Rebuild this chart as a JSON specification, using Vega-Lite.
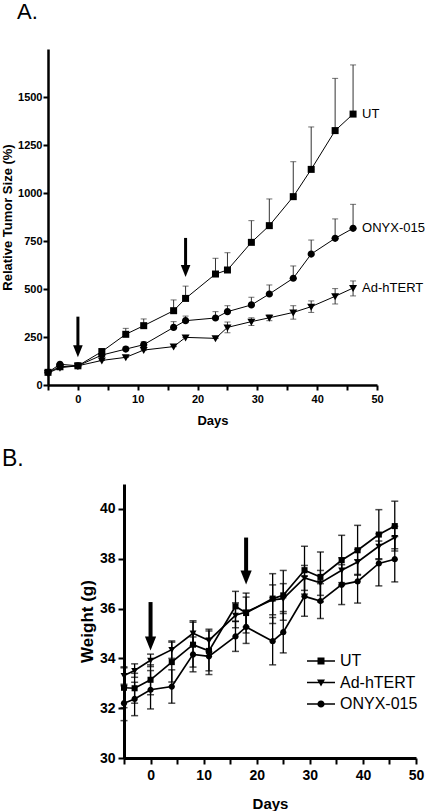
{
  "$schema": "https://vega.github.io/schema/vega-lite/v6.json",
  "padding": {"left": 1, "top": 1, "right": 0, "bottom": 0},
  "background": "white",
  "config": {"view": {"stroke": null}, "font": "Liberation Sans"},
  "spacing": 21,
  "columns": 1,
  "align": "none",
  "resolve": {"scale": {"shape": "independent"}, "legend": {"shape": "independent"}},
  "datasets": {
    "tumor": [
      {"series": "UT", "day": -5, "value": 66, "lo": 66, "hi": 66},
      {"series": "UT", "day": -3, "value": 95, "lo": 95, "hi": 95},
      {"series": "UT", "day": 0, "value": 100, "lo": 100, "hi": 100},
      {"series": "UT", "day": 4, "value": 174, "lo": 174, "hi": 190},
      {"series": "UT", "day": 8, "value": 264, "lo": 264, "hi": 295},
      {"series": "UT", "day": 11, "value": 309, "lo": 309, "hi": 344},
      {"series": "UT", "day": 16, "value": 387, "lo": 387, "hi": 443},
      {"series": "UT", "day": 18, "value": 451, "lo": 451, "hi": 515},
      {"series": "UT", "day": 23, "value": 578, "lo": 578, "hi": 660},
      {"series": "UT", "day": 25, "value": 599, "lo": 599, "hi": 689},
      {"series": "UT", "day": 29, "value": 743, "lo": 743, "hi": 856},
      {"series": "UT", "day": 32, "value": 830, "lo": 830, "hi": 969},
      {"series": "UT", "day": 36, "value": 981, "lo": 981, "hi": 1163},
      {"series": "UT", "day": 39, "value": 1123, "lo": 1123, "hi": 1344},
      {"series": "UT", "day": 43, "value": 1325, "lo": 1325, "hi": 1597},
      {"series": "UT", "day": 46, "value": 1411, "lo": 1411, "hi": 1667},
      {"series": "ONYX-015", "day": -5, "value": 66, "lo": 66, "hi": 66},
      {"series": "ONYX-015", "day": -3, "value": 108, "lo": 108, "hi": 108},
      {"series": "ONYX-015", "day": 0, "value": 100, "lo": 100, "hi": 100},
      {"series": "ONYX-015", "day": 4, "value": 156, "lo": 156, "hi": 162},
      {"series": "ONYX-015", "day": 8, "value": 187, "lo": 187, "hi": 198},
      {"series": "ONYX-015", "day": 11, "value": 210, "lo": 210, "hi": 225},
      {"series": "ONYX-015", "day": 16, "value": 300, "lo": 300, "hi": 330},
      {"series": "ONYX-015", "day": 18, "value": 335, "lo": 335, "hi": 359},
      {"series": "ONYX-015", "day": 23, "value": 349, "lo": 349, "hi": 382},
      {"series": "ONYX-015", "day": 25, "value": 382, "lo": 382, "hi": 413},
      {"series": "ONYX-015", "day": 29, "value": 417, "lo": 417, "hi": 457},
      {"series": "ONYX-015", "day": 32, "value": 474, "lo": 474, "hi": 521},
      {"series": "ONYX-015", "day": 36, "value": 556, "lo": 556, "hi": 620},
      {"series": "ONYX-015", "day": 39, "value": 682, "lo": 682, "hi": 755},
      {"series": "ONYX-015", "day": 43, "value": 764, "lo": 764, "hi": 865},
      {"series": "ONYX-015", "day": 46, "value": 816, "lo": 816, "hi": 941},
      {"series": "Ad-hTERT", "day": -5, "value": 62, "lo": 62, "hi": 62},
      {"series": "Ad-hTERT", "day": -3, "value": 90, "lo": 90, "hi": 90},
      {"series": "Ad-hTERT", "day": 0, "value": 100, "lo": 100, "hi": 100},
      {"series": "Ad-hTERT", "day": 4, "value": 128, "lo": 128, "hi": 128},
      {"series": "Ad-hTERT", "day": 8, "value": 144, "lo": 144, "hi": 144},
      {"series": "Ad-hTERT", "day": 11, "value": 182, "lo": 182, "hi": 182},
      {"series": "Ad-hTERT", "day": 16, "value": 200, "lo": 200, "hi": 200},
      {"series": "Ad-hTERT", "day": 18, "value": 248, "lo": 248, "hi": 248},
      {"series": "Ad-hTERT", "day": 23, "value": 243, "lo": 243, "hi": 243},
      {"series": "Ad-hTERT", "day": 25, "value": 300, "lo": 272, "hi": 328},
      {"series": "Ad-hTERT", "day": 29, "value": 330, "lo": 310, "hi": 350},
      {"series": "Ad-hTERT", "day": 32, "value": 350, "lo": 335, "hi": 365},
      {"series": "Ad-hTERT", "day": 36, "value": 378, "lo": 343, "hi": 413},
      {"series": "Ad-hTERT", "day": 39, "value": 408, "lo": 378, "hi": 438},
      {"series": "Ad-hTERT", "day": 43, "value": 462, "lo": 422, "hi": 502},
      {"series": "Ad-hTERT", "day": 46, "value": 505, "lo": 464, "hi": 542}
    ],
    "weight": [
      {"series": "UT", "day": -5, "value": 32.82, "lo": 32.02, "hi": 33.62},
      {"series": "UT", "day": -3, "value": 32.80, "lo": 32.20, "hi": 33.40},
      {"series": "UT", "day": 0, "value": 33.14, "lo": 32.54, "hi": 33.74},
      {"series": "UT", "day": 4, "value": 33.85, "lo": 33.05, "hi": 34.65},
      {"series": "UT", "day": 8, "value": 34.55, "lo": 33.65, "hi": 35.45},
      {"series": "UT", "day": 11, "value": 34.30, "lo": 33.50, "hi": 35.10},
      {"series": "UT", "day": 16, "value": 36.09, "lo": 35.49, "hi": 36.69},
      {"series": "UT", "day": 18, "value": 35.82, "lo": 35.02, "hi": 36.62},
      {"series": "UT", "day": 23, "value": 36.40, "lo": 35.40, "hi": 37.40},
      {"series": "UT", "day": 25, "value": 36.53, "lo": 35.53, "hi": 37.53},
      {"series": "UT", "day": 29, "value": 37.54, "lo": 36.58, "hi": 38.50},
      {"series": "UT", "day": 32, "value": 37.27, "lo": 36.27, "hi": 38.27},
      {"series": "UT", "day": 36, "value": 37.94, "lo": 36.94, "hi": 38.94},
      {"series": "UT", "day": 39, "value": 38.34, "lo": 37.34, "hi": 39.34},
      {"series": "UT", "day": 43, "value": 38.97, "lo": 37.97, "hi": 39.97},
      {"series": "UT", "day": 46, "value": 39.31, "lo": 38.31, "hi": 40.31},
      {"series": "Ad-hTERT", "day": -5, "value": 33.31, "lo": 32.96, "hi": 33.66},
      {"series": "Ad-hTERT", "day": -3, "value": 33.51, "lo": 33.24, "hi": 33.78},
      {"series": "Ad-hTERT", "day": 0, "value": 33.92, "lo": 33.67, "hi": 34.17},
      {"series": "Ad-hTERT", "day": 4, "value": 34.35, "lo": 34.00, "hi": 34.70},
      {"series": "Ad-hTERT", "day": 8, "value": 35.01, "lo": 34.51, "hi": 35.51},
      {"series": "Ad-hTERT", "day": 11, "value": 34.72, "lo": 34.27, "hi": 35.17},
      {"series": "Ad-hTERT", "day": 16, "value": 35.73, "lo": 35.23, "hi": 36.23},
      {"series": "Ad-hTERT", "day": 18, "value": 35.86, "lo": 35.26, "hi": 36.46},
      {"series": "Ad-hTERT", "day": 23, "value": 36.35, "lo": 35.75, "hi": 36.95},
      {"series": "Ad-hTERT", "day": 25, "value": 36.40, "lo": 35.80, "hi": 37.00},
      {"series": "Ad-hTERT", "day": 29, "value": 37.23, "lo": 36.73, "hi": 37.73},
      {"series": "Ad-hTERT", "day": 32, "value": 37.03, "lo": 36.53, "hi": 37.53},
      {"series": "Ad-hTERT", "day": 36, "value": 37.54, "lo": 37.04, "hi": 38.04},
      {"series": "Ad-hTERT", "day": 39, "value": 37.87, "lo": 37.37, "hi": 38.37},
      {"series": "Ad-hTERT", "day": 43, "value": 38.50, "lo": 38.00, "hi": 39.00},
      {"series": "Ad-hTERT", "day": 46, "value": 38.85, "lo": 38.40, "hi": 39.30},
      {"series": "ONYX-015", "day": -5, "value": 32.20, "lo": 31.50, "hi": 32.90},
      {"series": "ONYX-015", "day": -3, "value": 32.37, "lo": 31.70, "hi": 33.04},
      {"series": "ONYX-015", "day": 0, "value": 32.74, "lo": 31.97, "hi": 33.51},
      {"series": "ONYX-015", "day": 4, "value": 32.87, "lo": 32.20, "hi": 33.54},
      {"series": "ONYX-015", "day": 8, "value": 34.16, "lo": 33.46, "hi": 34.86},
      {"series": "ONYX-015", "day": 11, "value": 34.08, "lo": 33.35, "hi": 34.81},
      {"series": "ONYX-015", "day": 16, "value": 34.88, "lo": 34.28, "hi": 35.48},
      {"series": "ONYX-015", "day": 18, "value": 35.26, "lo": 34.60, "hi": 35.92},
      {"series": "ONYX-015", "day": 23, "value": 34.69, "lo": 33.74, "hi": 35.64},
      {"series": "ONYX-015", "day": 25, "value": 35.05, "lo": 34.22, "hi": 35.88},
      {"series": "ONYX-015", "day": 29, "value": 36.49, "lo": 35.69, "hi": 37.29},
      {"series": "ONYX-015", "day": 32, "value": 36.30, "lo": 35.60, "hi": 37.00},
      {"series": "ONYX-015", "day": 36, "value": 36.96, "lo": 36.16, "hi": 37.76},
      {"series": "ONYX-015", "day": 39, "value": 37.09, "lo": 36.22, "hi": 37.96},
      {"series": "ONYX-015", "day": 43, "value": 37.81, "lo": 36.91, "hi": 38.71},
      {"series": "ONYX-015", "day": 46, "value": 37.98, "lo": 37.07, "hi": 38.89}
    ],
    "arrowsA": [
      {"day": 0, "top": 356, "base": 200, "tip": 144},
      {"day": 18, "top": 766, "base": 620, "tip": 563}
    ],
    "arrowsB": [
      {"day": 0, "top": 36.26, "base": 34.85, "tip": 34.32},
      {"day": 18, "top": 38.85, "base": 37.5, "tip": 36.97}
    ]
  },
  "concat": [
    {
      "resolve": {"scale": {"shape": "independent"}, "legend": {"shape": "independent"}},
      "hconcat": [
        {
          "width": 329,
          "height": 336,
          "title": {"text": "A.", "anchor": "start", "frame": "group", "dx": -31, "offset": 25, "fontSize": 22, "fontWeight": "normal", "font": "Liberation Sans", "color": "black"},
          "encoding": {
            "x": {"field": "day", "type": "quantitative",
              "scale": {"domain": [-5, 50], "nice": false, "zero": false},
              "axis": {"values": [-5, 0, 5, 10, 15, 20, 25, 30, 35, 40, 45, 50],
                "labelExpr": "datum.value % 10 === 0 ? datum.label : ''",
                "title": "Days", "titleFontSize": 13, "titleFontWeight": "bold", "titleColor": "black", "titlePadding": 10, "titleFont": "Liberation Sans",
                "labelFontSize": 11, "labelFontWeight": "bold", "labelColor": "black", "labelFont": "Liberation Sans", "labelPadding": 3,
                "domainColor": "black", "domainWidth": 2.5, "tickColor": "black", "tickWidth": 2, "tickSize": 5, "grid": false, "labelFlush": false, "labelOverlap": false}
            }
          },
          "layer": [
            {
              "data": {"name": "tumor"},
              "mark": {"type": "rule", "color": "#333", "strokeWidth": 1},
              "encoding": {
                "y": {"field": "lo", "type": "quantitative", "scale": {"domain": [0, 1750], "nice": false, "zero": false}},
                "y2": {"field": "hi"}
              }
            },
            {
              "data": {"name": "tumor"},
              "mark": {"type": "tick", "orient": "horizontal", "color": "#333", "size": 6, "thickness": 1},
              "encoding": {"y": {"field": "hi", "type": "quantitative"}}
            },
            {
              "data": {"name": "tumor"},
              "mark": {"type": "tick", "orient": "horizontal", "color": "#333", "size": 6, "thickness": 1},
              "encoding": {"y": {"field": "lo", "type": "quantitative"}}
            },
            {
              "data": {"name": "tumor"},
              "mark": {"type": "line", "color": "black", "strokeWidth": 1},
              "encoding": {
                "y": {"field": "value", "type": "quantitative",
                  "axis": {"values": [0, 125, 250, 375, 500, 625, 750, 875, 1000, 1125, 1250, 1375, 1500, 1625],
                    "format": "d",
                    "labelExpr": "datum.value % 250 === 0 ? datum.label : ''",
                    "title": "Relative Tumor Size (%)", "titleFontSize": 13, "titleFontWeight": "bold", "titleColor": "black", "titlePadding": 3, "titleFont": "Liberation Sans",
                    "labelFontSize": 11, "labelFontWeight": "bold", "labelColor": "black", "labelFont": "Liberation Sans", "labelPadding": 1,
                    "domainColor": "black", "domainWidth": 2.5, "tickColor": "black", "tickWidth": 2, "tickSize": 5, "grid": false, "labelOverlap": false}},
                "detail": {"field": "series", "type": "nominal"}
              }
            },
            {
              "data": {"name": "tumor"},
              "mark": {"type": "point", "filled": true, "fill": "black", "strokeWidth": 0, "opacity": 1, "size": 400},
              "encoding": {
                "y": {"field": "value", "type": "quantitative"},
                "shape": {"field": "series", "type": "nominal",
                  "scale": {"domain": ["UT", "Ad-hTERT", "ONYX-015"],
                    "range": ["M-0.35,-0.35H0.35V0.35H-0.35Z",
                              "M-0.4,-0.3H0.4L0,0.4Z",
                              "M-0.36,0A0.36,0.36,0,1,1,0.36,0A0.36,0.36,0,1,1,-0.36,0Z"]},
                  "legend": null}
              }
            },
            {
              "data": {"name": "tumor"},
              "transform": [{"filter": "datum.day === 46"}],
              "mark": {"type": "text", "align": "left", "baseline": "middle", "dx": 9, "fontSize": 13, "font": "Liberation Sans", "color": "black"},
              "encoding": {
                "y": {"field": "value", "type": "quantitative"},
                "text": {"field": "series"}
              }
            },
            {
              "data": {"name": "arrowsA"},
              "mark": {"type": "rule", "color": "black", "strokeWidth": 3},
              "encoding": {
                "y": {"field": "top", "type": "quantitative"},
                "y2": {"field": "base"}
              }
            },
            {
              "data": {"name": "arrowsA"},
              "mark": {"type": "point", "filled": true, "fill": "black", "strokeWidth": 0, "opacity": 1, "size": 144, "shape": "M-0.8,-2H0.8L0,0Z"},
              "encoding": {"y": {"field": "tip", "type": "quantitative"}}
            }
          ]
        }
      ]
    },
    {
      "title": {"text": "B.", "anchor": "start", "frame": "group", "dx": -46, "offset": 13, "fontSize": 23, "fontWeight": "normal", "font": "Liberation Sans", "color": "black"},
      "resolve": {"scale": {"shape": "independent"}, "legend": {"shape": "independent"}},
      "spacing": 0,
      "hconcat": [
        {
          "width": 30,
          "height": 10,
          "data": {"values": []},
          "mark": {"type": "text", "text": ""}
        },
        {
          "width": 292,
          "height": 274,
          "resolve": {"scale": {"shape": "independent"}, "legend": {"shape": "independent"}},
          "encoding": {
            "x": {"field": "day", "type": "quantitative",
              "scale": {"domain": [-5, 50], "nice": false, "zero": false},
              "axis": {"values": [-5, 0, 5, 10, 15, 20, 25, 30, 35, 40, 45, 50],
                "labelExpr": "datum.value % 10 === 0 ? datum.label : ''",
                "title": "Days", "titleFontSize": 15, "titleFontWeight": "bold", "titleColor": "black", "titlePadding": 14, "titleFont": "Liberation Sans",
                "labelFontSize": 14, "labelFontWeight": "bold", "labelColor": "black", "labelFont": "Liberation Sans", "labelPadding": 4,
                "domainColor": "black", "domainWidth": 3, "tickColor": "black", "tickWidth": 2, "tickSize": 6, "grid": false, "labelFlush": false, "labelOverlap": false}
            }
          },
          "layer": [
            {
              "data": {"name": "weight"},
              "mark": {"type": "rule", "color": "black", "strokeWidth": 1.3},
              "encoding": {
                "y": {"field": "lo", "type": "quantitative", "scale": {"domain": [30, 41], "nice": false, "zero": false}},
                "y2": {"field": "hi"}
              }
            },
            {
              "data": {"name": "weight"},
              "mark": {"type": "tick", "orient": "horizontal", "color": "black", "size": 7, "thickness": 1.5},
              "encoding": {"y": {"field": "hi", "type": "quantitative"}}
            },
            {
              "data": {"name": "weight"},
              "mark": {"type": "tick", "orient": "horizontal", "color": "black", "size": 7, "thickness": 1.5},
              "encoding": {"y": {"field": "lo", "type": "quantitative"}}
            },
            {
              "data": {"name": "weight"},
              "mark": {"type": "line", "color": "black", "strokeWidth": 1.7},
              "encoding": {
                "y": {"field": "value", "type": "quantitative",
                  "axis": {"values": [30, 31, 32, 33, 34, 35, 36, 37, 38, 39, 40],
                    "labelExpr": "datum.value % 2 === 0 ? datum.label : ''",
                    "title": "Weight (g)", "titleFontSize": 17, "titleFontWeight": "bold", "titleColor": "black", "titlePadding": 3, "titleFont": "Liberation Sans",
                    "labelFontSize": 14, "labelFontWeight": "bold", "labelColor": "black", "labelFont": "Liberation Sans", "labelPadding": 3,
                    "domainColor": "black", "domainWidth": 3, "tickColor": "black", "tickWidth": 2, "tickSize": 6, "grid": false, "labelOverlap": false}},
                "detail": {"field": "series", "type": "nominal"}
              }
            },
            {
              "data": {"name": "weight"},
              "mark": {"type": "point", "filled": true, "fill": "black", "strokeWidth": 0, "opacity": 1, "size": 300},
              "encoding": {
                "y": {"field": "value", "type": "quantitative"},
                "shape": {"field": "series", "type": "nominal",
                  "scale": {"domain": ["UT", "Ad-hTERT", "ONYX-015"],
                    "range": ["M-0.35,-0.35H0.35V0.35H-0.35Z",
                              "M-0.4,-0.3H0.4L0,0.4Z",
                              "M-0.36,0A0.36,0.36,0,1,1,0.36,0A0.36,0.36,0,1,1,-0.36,0Z"]},
                  "legend": null}
              }
            },
            {
              "data": {"name": "weight"},
              "transform": [{"filter": "datum.day > 1000"}],
              "mark": {"type": "point", "filled": true, "fill": "black", "strokeWidth": 0, "opacity": 1},
              "encoding": {
                "y": {"field": "value", "type": "quantitative"},
                "shape": {"field": "series", "type": "nominal",
                  "scale": {"domain": ["UT", "Ad-hTERT", "ONYX-015"],
                    "range": ["M-1.4,-0.08H1.4V0.08H-1.4ZM-0.35,-0.35H0.35V0.35H-0.35Z",
                              "M-1.4,-0.08H1.4V0.08H-1.4ZM-0.4,-0.3H0.4L0,0.4Z",
                              "M-1.4,-0.08H1.4V0.08H-1.4ZM-0.36,0A0.36,0.36,0,1,1,0.36,0A0.36,0.36,0,1,1,-0.36,0Z"]},
                  "legend": {"orient": "none", "legendX": 187, "legendY": 167, "title": null,
                    "labelFontSize": 16, "labelFont": "Liberation Sans", "labelColor": "black",
                    "symbolSize": 400, "labelOffset": 9, "rowPadding": 3.5, "padding": 0,
                    "symbolFillColor": "black", "symbolStrokeWidth": 0, "symbolOpacity": 1}}
              }
            },
            {
              "data": {"name": "arrowsB"},
              "mark": {"type": "rule", "color": "black", "strokeWidth": 4},
              "encoding": {
                "y": {"field": "top", "type": "quantitative"},
                "y2": {"field": "base"}
              }
            },
            {
              "data": {"name": "arrowsB"},
              "mark": {"type": "point", "filled": true, "fill": "black", "strokeWidth": 0, "opacity": 1, "size": 196, "shape": "M-0.8,-2H0.8L0,0Z"},
              "encoding": {"y": {"field": "tip", "type": "quantitative"}}
            }
          ]
        }
      ]
    }
  ]
}
